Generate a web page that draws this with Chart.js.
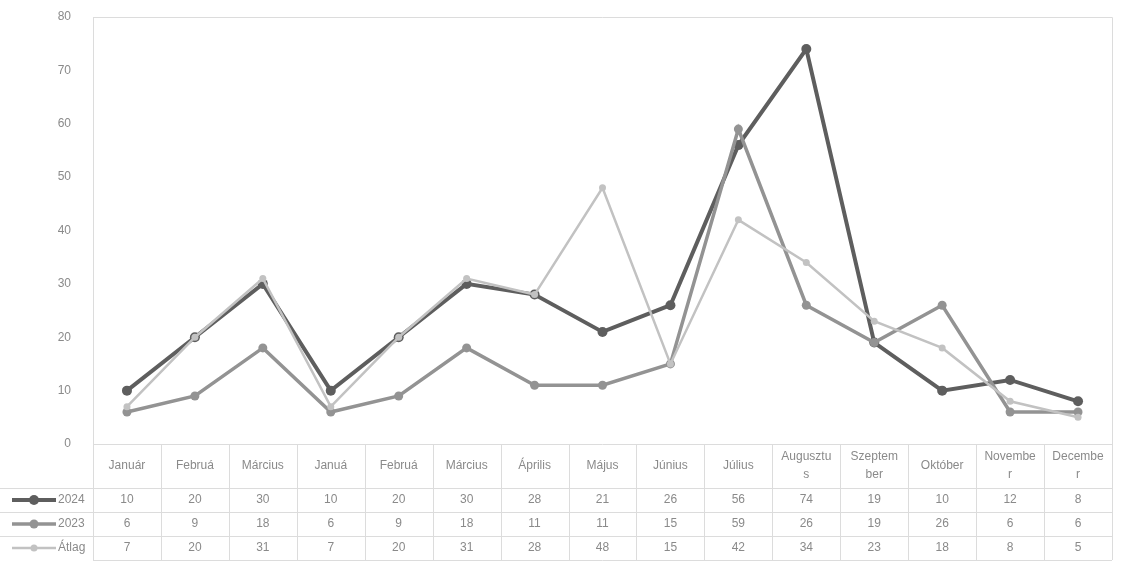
<!DOCTYPE html>
<html>
<head>
<meta charset="utf-8">
<script src="https://cdn.jsdelivr.net/npm/chart.js@4.4.1/dist/chart.umd.min.js"></script>
<style>
  html, body { margin: 0; padding: 0; background: #fff; }
  #wrap { width: 1122px; height: 569px; position: relative; }
</style>
</head>
<body>
<div id="wrap"><canvas id="chart"></canvas></div>
<script>
// categories as shown in the table (Excel clips/wraps the long ones)
const months = ['Január', 'Februá', 'Március', 'Januá', 'Februá', 'Március', 'Április', 'Május',
  'Június', 'Július', ['Augusztu', 's'], ['Szeptem', 'ber'], 'Október', ['Novembe', 'r'], ['Decembe', 'r']];

const seriesNames = ['2024', '2023', 'Átlag'];
const values2024 = [10, 20, 30, 10, 20, 30, 28, 21, 26, 56, 74, 19, 10, 12, 8];
const values2023 = [6, 9, 18, 6, 9, 18, 11, 11, 15, 59, 26, 19, 26, 6, 6];
const valuesAvg = [7, 20, 31, 7, 20, 31, 28, 48, 15, 42, 34, 23, 18, 8, 5];

const colors = ['#5e5e5e', '#939393', '#c2c2c2'];
const widths = [4, 3.5, 2.5];
const radii = [5, 4.5, 3.5];

const FONT = '12px "Liberation Sans", Arial, sans-serif';
const TXT = '#8a8a8a';
const LINE = '#dcdcdc';

// draws the plot border and the data table under the chart
const dataTable = {
    id: 'dataTable',
    afterDraw(chart) {
        const { ctx, chartArea: a } = chart;
        const x = chart.scales.x;
        const n = months.length;
        const cw = (a.right - a.left) / n;
        const headBottom = a.bottom + 44;
        const rowH = 24;
        const tableBottom = headBottom + rowH * 3;

        ctx.save();
        ctx.strokeStyle = LINE;
        ctx.lineWidth = 1;
        // top + right border of plot
        ctx.beginPath();
        ctx.moveTo(a.left, a.top + 0.5);
        ctx.lineTo(a.right + 0.5, a.top + 0.5);
        ctx.lineTo(a.right + 0.5, a.bottom);
        ctx.stroke();

        // vertical cell lines
        ctx.beginPath();
        for (let i = 0; i <= n; i++) {
            const px = Math.round(a.left + i * cw) + 0.5;
            ctx.moveTo(px, a.bottom);
            ctx.lineTo(px, tableBottom);
        }
        // horizontal row lines
        for (let r = 0; r <= 3; r++) {
            const py = Math.round(headBottom + r * rowH) + 0.5;
            ctx.moveTo(r === 3 ? a.left : 0, py);
            ctx.lineTo(a.right, py);
        }
        ctx.moveTo(a.left, a.bottom + 0.5);
        ctx.lineTo(a.right, a.bottom + 0.5);
        ctx.stroke();

        ctx.font = FONT;
        ctx.fillStyle = TXT;
        ctx.textAlign = 'center';
        ctx.textBaseline = 'middle';

        // header (categories)
        months.forEach((m, i) => {
            const cx = x.getPixelForValue(i);
            const lines = Array.isArray(m) ? m : [m];
            const mid = a.bottom + 22;
            lines.forEach((l, k) => {
                ctx.fillText(l, cx, mid + (k - (lines.length - 1) / 2) * 18);
            });
        });

        // value rows with legend keys
        const rows = [values2024, values2023, valuesAvg];
        rows.forEach((vals, r) => {
            const cy = headBottom + r * rowH + rowH / 2;
            vals.forEach((v, i) => {
                ctx.fillText(String(v), x.getPixelForValue(i), cy);
            });
            // legend key
            ctx.strokeStyle = colors[r];
            ctx.lineWidth = widths[r];
            ctx.beginPath();
            ctx.moveTo(12, cy);
            ctx.lineTo(56, cy);
            ctx.stroke();
            ctx.fillStyle = colors[r];
            ctx.beginPath();
            ctx.arc(34, cy, radii[r], 0, Math.PI * 2);
            ctx.fill();
            ctx.fillStyle = TXT;
            ctx.textAlign = 'left';
            ctx.fillText(seriesNames[r], 58, cy);
            ctx.textAlign = 'center';
        });
        ctx.restore();
    }
};

const datasets = [values2024, values2023, valuesAvg].map((vals, i) => ({
    label: seriesNames[i],
    data: vals,
    borderColor: colors[i],
    backgroundColor: colors[i],
    pointBackgroundColor: colors[i],
    pointBorderColor: colors[i],
    borderWidth: widths[i],
    pointRadius: radii[i],
    pointBorderWidth: 0,
    tension: 0,
    order: 3 - i
}));

new Chart(document.getElementById('chart'), {
    type: 'line',
    data: { labels: months.map(m => Array.isArray(m) ? m.join('') : m), datasets },
    options: {
        responsive: true,
        maintainAspectRatio: false,
        animation: false,
        layout: { padding: { left: 0, top: 17, right: 10, bottom: 125 } },
        plugins: { legend: { display: false }, tooltip: { enabled: false } },
        scales: {
            x: {
                display: false,
                offset: true
            },
            y: {
                min: 0,
                max: 80,
                afterFit: s => { s.width = 93; s.paddingTop = 0; s.paddingBottom = 0; },
                ticks: { stepSize: 10, color: TXT, font: { family: '"Liberation Sans", Arial, sans-serif', size: 12 }, padding: 14 },
                grid: { display: false },
                border: { display: true, color: LINE, width: 1 }
            }
        }
    },
    plugins: [dataTable]
});
</script>
</body>
</html>
